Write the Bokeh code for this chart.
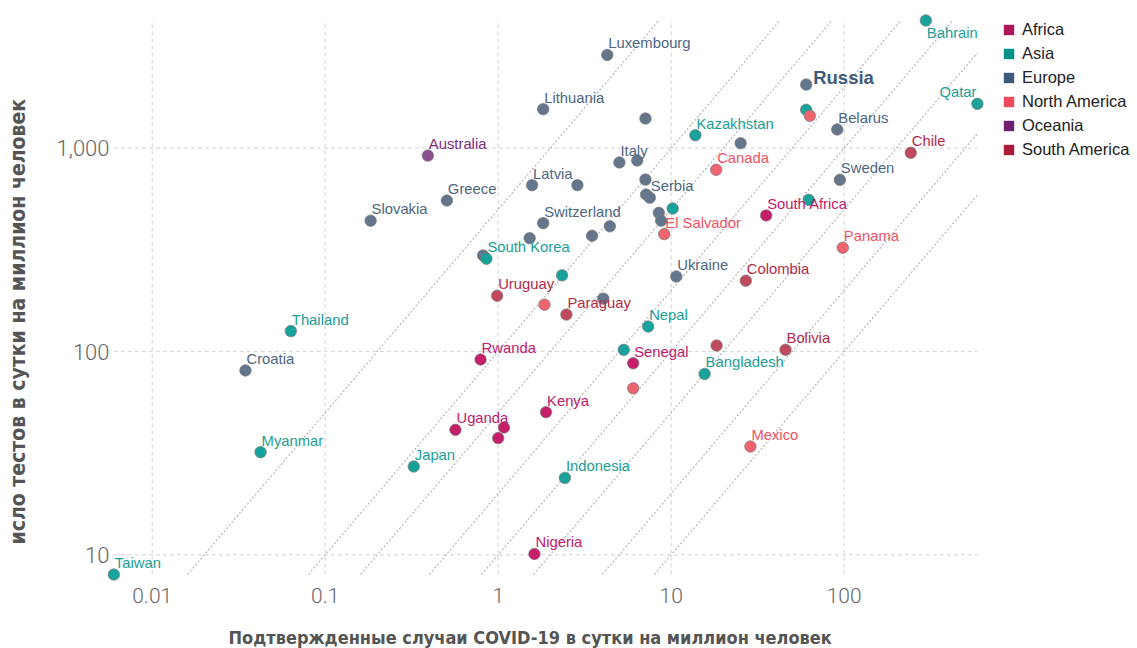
from bokeh.plotting import figure
from bokeh.models import (Range1d, ColumnDataSource, FixedTicker, Legend,
                          LegendItem, Title)
from bokeh.core.properties import value
from bokeh.embed import file_html
from bokeh.resources import INLINE

# ---- data: daily confirmed cases and daily tests per million people ----
countries = [
    # Europe
    "Luxembourg", "Lithuania", "", "", "Russia", "Belarus", "Sweden", "Italy", "",
    "Latvia", "", "Greece", "Slovakia", "Croatia", "Switzerland", "", "", "", "",
    "", "Serbia", "", "", "", "Ukraine", "",
    # Asia
    "Bahrain", "Qatar", "", "Kazakhstan", "", "", "South Korea", "", "Thailand",
    "Nepal", "", "Bangladesh", "Myanmar", "Japan", "Indonesia", "Taiwan",
    # North America
    "Canada", "El Salvador", "", "Panama", "", "", "Mexico",
    # South America
    "Chile", "Colombia", "Uruguay", "Paraguay", "", "Bolivia",
    # Africa
    "South Africa", "Rwanda", "Senegal", "Kenya", "Uganda", "", "", "Nigeria",
    # Oceania
    "Australia",
]
regions = (["Europe"] * 26 + ["Asia"] * 16 + ["North America"] * 7
           + ["South America"] * 6 + ["Africa"] * 8 + ["Oceania"] * 1)
cases = [
    4.27, 1.82, 7.1, 25.2, 60.3, 91.2, 94.4, 5.02, 6.36,
    1.57, 2.87, 0.505, 0.183, 0.0346, 1.82, 1.52, 3.49, 4.42, 7.1,
    7.16, 7.52, 8.48, 8.75, 0.818, 10.7, 4.05,
    296.5, 589, 60.3, 13.8, 10.2, 62.4, 0.855, 2.34, 0.0633,
    7.36, 5.32, 15.6, 0.0423, 0.325, 2.43, 0.0060,
    18.2, 9.12, 63.3, 98.2, 1.85, 6.03, 28.7,
    242.6, 27.0, 0.986, 2.48, 18.3, 45.8,
    35.4, 0.791, 6.03, 1.89, 0.566, 1.08, 1.0, 1.62,
    0.392,
]
tests = [
    2876, 1556, 1399, 1058, 2056, 1236, 699, 851, 870,
    658, 658, 553, 440, 80.7, 428, 361, 371, 413, 701,
    592, 571, 481, 440, 297, 234, 182,
    4246, 1653, 1545, 1159, 505, 557, 286, 237, 126,
    132.7, 101.9, 77.6, 32.0, 27.2, 23.9, 8.0,
    783, 378, 1443, 324, 170, 65.9, 34.1,
    949, 223, 188, 152, 107, 102,
    467, 91.4, 87.5, 50.3, 41.2, 42.3, 37.5, 10.1,
    920,
]

region_names = ["Africa", "Asia", "Europe", "North America", "Oceania", "South America"]
legend_colors = ["#b0175b", "#00918b", "#3e5b7a", "#f0475a", "#6e1f6f", "#a81c38"]
point_colors = ["#c51f6c", "#17a39c", "#64768b", "#ee6570", "#8b4f8e", "#c0495d"]
text_colors = ["#c2196b", "#1a9e96", "#4d6682", "#f0525f", "#7b2d80", "#b52a46"]

# tests-per-case reference lines
ratio_lines = [1, 2, 5, 10, 20, 50, 100, 500]

x_ticks = [0.01, 0.1, 1, 10, 100]
x_tick_labels = ["0.01", "0.1", "1", "10", "100"]
y_ticks = [10, 100, 1000]
y_tick_labels = ["10", "100", "1,000"]

x_title = "Подтвержденные случаи COVID-19 в сутки на миллион человек"
y_title = "исло тестов в сутки на миллион человек"
highlight = "Russia"

# ---- figure: the plot area runs to the right edge so the legend fits inside ----
p = figure(width=1137, height=648, x_axis_type="log", y_axis_type="log",
           x_range=Range1d(0.00537, 4960), y_range=Range1d(7.31, 4650),
           output_backend="svg", toolbar_location=None,
           min_border_left=105, min_border_right=0,
           min_border_top=12, min_border_bottom=66)
p.outline_line_color = None
p.background_fill_color = "white"
p.border_fill_color = "white"
p.xgrid.visible = False
p.ygrid.visible = False

tick_font = "Roboto Light, Roboto, Liberation Sans, sans-serif"
for ax, ticks, labels in ((p.xaxis[0], x_ticks, x_tick_labels),
                          (p.yaxis[0], y_ticks, y_tick_labels)):
    ax.ticker = FixedTicker(ticks=ticks)
    ax.major_label_overrides = {float(t): l for t, l in zip(ticks, labels)}
    ax.axis_line_color = None
    ax.major_tick_line_color = None
    ax.minor_tick_line_color = None
    ax.major_label_text_font = tick_font
    ax.major_label_text_color = "#666666"
p.xaxis.major_label_text_font_size = "21px"
p.yaxis.major_label_text_font_size = "22px"
p.xaxis.major_label_standoff = -1
p.yaxis.major_label_standoff = -10

# data extents bound the grid and the reference lines
xmin, xmax = min(cases), max(cases)
ymin, ymax = min(tests), max(tests)

grid_color = "#d9d9d9"
p.segment(x0=x_ticks, x1=x_ticks, y0=[ymin] * len(x_ticks), y1=[ymax] * len(x_ticks),
          line_color=grid_color, line_width=1.2, line_dash="4 3")
p.segment(x0=[xmin] * len(y_ticks), x1=[xmax] * len(y_ticks), y0=y_ticks, y1=y_ticks,
          line_color=grid_color, line_width=1.2, line_dash="4 3")

dx0, dx1, dy0, dy1 = [], [], [], []
for r in ratio_lines:
    a = max(xmin, ymin / r)
    b = min(xmax, ymax / r)
    if a < b:
        dx0.append(a); dx1.append(b); dy0.append(a * r); dy1.append(b * r)
p.segment(x0=dx0, x1=dx1, y0=dy0, y1=dy1, line_color="#b0b0b0",
          line_width=1.1, line_dash="2 2")

# ---- points ----
idx = {r: i for i, r in enumerate(region_names)}
src = ColumnDataSource(dict(
    x=cases, y=tests, name=countries, region=regions,
    fill=[point_colors[idx[r]] for r in regions],
))
p.scatter("x", "y", source=src, size=11.5, fill_color="fill", fill_alpha=1.0,
          line_color="#7a7a7a", line_width=1, line_alpha=0.7)

# ---- labels ----
lx, ly, lt, lc, la, lxo, lyo = [], [], [], [], [], [], []
for c, r, x, y in zip(countries, regions, cases, tests):
    if not c or c == highlight:
        continue
    align, xo, yo = "left", 1, -11.5
    if c == "Bahrain":
        yo = 12
    elif c == "Qatar":
        align, xo = "right", -1
    lx.append(x); ly.append(y); lt.append(c); lc.append(text_colors[idx[r]])
    la.append(align); lxo.append(xo); lyo.append(yo)

lab_src = ColumnDataSource(dict(x=lx, y=ly, text=lt, color=lc, align=la,
                                xo=lxo, yo=lyo))
p.text("x", "y", text="text", source=lab_src, text_color="color",
       text_align="align", x_offset="xo", y_offset="yo",
       text_baseline="alphabetic", text_font=value("Liberation Sans"),
       text_font_size="14.8px")

hi = countries.index(highlight)
p.text(x=[cases[hi]], y=[tests[hi]], text=[highlight], x_offset=7, y_offset=-7,
       text_color=legend_colors[idx[regions[hi]]], text_font=value("Liberation Sans"),
       text_font_style="bold", text_font_size="18.5px", text_baseline="alphabetic")

# ---- axis titles (a thin blank band between tick labels and each title) ----
title_font = "DejaVu Sans Condensed, Roboto, sans-serif"
p.add_layout(Title(text=" ", text_font_size="1px", standoff=22), "below")
p.add_layout(Title(text=x_title, align="left", offset=123, standoff=-12,
                   text_font=title_font, text_font_style="bold",
                   text_font_size="18px", text_color="#555555"), "below")
p.add_layout(Title(text=" ", text_font_size="1px", standoff=20), "left")
p.add_layout(Title(text=y_title, align="left", offset=38, standoff=-2,
                   vertical_align="top",
                   text_font=title_font, text_font_style="bold",
                   text_font_size="21px", text_color="#555555"), "left")

# ---- legend ----
items = []
nan = float("nan")
for name, col in zip(region_names, legend_colors):
    rr = p.quad(left=[nan], right=[nan], top=[nan], bottom=[nan],
                fill_color=col, line_color=None)
    items.append(LegendItem(label=name, renderers=[rr]))
legend = Legend(items=items, location=(897, 423), orientation="vertical",
                glyph_width=13, glyph_height=13, label_height=20, spacing=4,
                label_standoff=7, padding=5, margin=0,
                label_text_font="Liberation Sans", label_text_font_size="16.5px",
                label_text_color="#222222", background_fill_alpha=0,
                border_line_color=None)
p.add_layout(legend)

open("out.html", "w").write(file_html(p, INLINE))
